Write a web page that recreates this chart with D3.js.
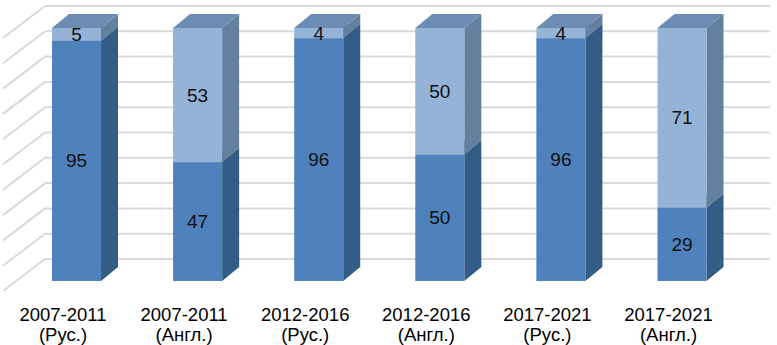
<!DOCTYPE html>
<html>
<head>
<meta charset="utf-8">
<script src="https://cdn.jsdelivr.net/npm/d3@7"></script>
<style>
  html, body { margin: 0; padding: 0; background: #ffffff; }
  svg { display: block; }
</style>
</head>
<body>
<svg id="chart" width="777" height="345"></svg>
<script>
// ---- data ----
const categories = ["2007-2011 (Рус.)", "2007-2011 (Англ.)", "2012-2016 (Рус.)", "2012-2016 (Англ.)", "2017-2021 (Рус.)", "2017-2021 (Англ.)"];
const labelLine1 = ["2007-2011", "2007-2011", "2012-2016", "2012-2016", "2017-2021", "2017-2021"];
const labelLine2 = ["(Рус.)", "(Англ.)", "(Рус.)", "(Англ.)", "(Рус.)", "(Англ.)"];
const seriesDark = [95, 47, 96, 50, 96, 29];
const seriesLight = [5, 53, 4, 50, 4, 71];
const gridTicks = [0, 10, 20, 30, 40, 50, 60, 70, 80, 90, 100];

// ---- layout ----
const svg = d3.select("#chart");

const x = d3.scaleBand()
  .domain(categories)
  .range([15.95, 742.55])
  .paddingInner(0.595)
  .paddingOuter(0.2975);

const y = d3.scaleLinear().domain([0, 100]).range([281, 28]);

// 3D offsets
const barDX = 17, barDY = -14;      // bar depth
const backDY = -22;                 // bar front plane -> back wall
const wallLeft = 45, wallRight = 770;
const wallFrontX = 3, wallDY = 32;  // side wall depth projection

const yBack = v => y(v) + backDY;

const gridColor = "#d9d9d9";

// back wall gridlines
svg.append("g").selectAll("line").data(gridTicks).join("line")
  .attr("x1", wallLeft).attr("x2", wallRight)
  .attr("y1", d => yBack(d)).attr("y2", d => yBack(d))
  .attr("stroke", gridColor).attr("stroke-width", 2);

// side wall diagonal gridlines
svg.append("g").selectAll("line").data(gridTicks).join("line")
  .attr("x1", wallFrontX).attr("y1", d => yBack(d) + wallDY)
  .attr("x2", wallLeft).attr("y2", d => yBack(d))
  .attr("stroke", gridColor).attr("stroke-width", 2);

// stacked data
const stack = d3.stack().keys(["dark", "light"]);
const rows = categories.map((c, i) => ({ cat: c, dark: seriesDark[i], light: seriesLight[i] }));
const stacked = stack(rows);

const colors = {
  dark:  { front: "#4f81bd", side: "#335d86", top: "#5a83b2" },
  light: { front: "#95b3d7", side: "#64809f", top: "#6d8cb3" }
};

const bars = svg.append("g");
categories.forEach((c, i) => {
  const x0 = x(c), x1 = x(c) + x.bandwidth();
  stacked.forEach(s => {
    const seg = s[i];
    const yb = y(seg[0]), yt = y(seg[1]);
    const col = colors[s.key];
    const g = bars.append("g");
    g.append("path")
      .attr("d", `M${x1},${yb} L${x1 + barDX},${yb + barDY} L${x1 + barDX},${yt + barDY} L${x1},${yt} Z`)
      .attr("fill", col.side);
    g.append("path")
      .attr("d", `M${x0},${yt} L${x1},${yt} L${x1 + barDX},${yt + barDY} L${x0 + barDX},${yt + barDY} Z`)
      .attr("fill", col.top);
    g.append("rect")
      .attr("x", x0).attr("y", yt)
      .attr("width", x.bandwidth()).attr("height", yb - yt)
      .attr("fill", col.front);
  });
});

// data labels
const labels = svg.append("g")
  .attr("font-family", "'Liberation Sans', Arial, sans-serif")
  .attr("font-size", 19)
  .attr("fill", "#111")
  .attr("text-anchor", "middle");
categories.forEach((c, i) => {
  const cx = x(c) + x.bandwidth() / 2;
  stacked.forEach(s => {
    const seg = s[i];
    labels.append("text")
      .attr("x", cx)
      .attr("y", y((seg[0] + seg[1]) / 2))
      .attr("dy", "0.35em")
      .text(seg.data[s.key]);
  });
});

// category axis labels
const axisG = svg.append("g")
  .attr("font-family", "'Liberation Sans', Arial, sans-serif")
  .attr("font-size", 18.5)
  .attr("fill", "#000")
  .attr("text-anchor", "middle");
categories.forEach((c, i) => {
  const cx = x(c) + x.bandwidth() / 2 - 13.5;
  const t = axisG.append("text").attr("x", cx).attr("y", 321);
  t.append("tspan").attr("x", cx).text(labelLine1[i]);
  t.append("tspan").attr("x", cx).attr("dy", 20).text(labelLine2[i]);
});
</script>
</body>
</html>
